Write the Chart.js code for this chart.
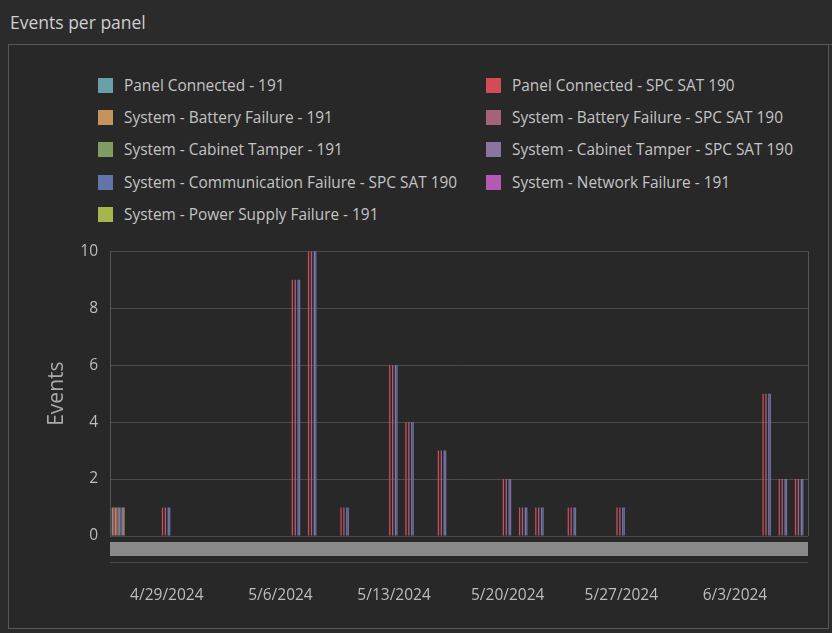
<!DOCTYPE html>
<html lang="en">
<head>
  <meta charset="UTF-8">
  <title>Events per panel</title>
  <script src="https://cdn.jsdelivr.net/npm/chart.js"></script>
  <style>
    body {
      margin: 0;
      width: 832px;
      height: 633px;
      background-color: #2b2b2b;
      font-family: 'Open Sans', sans-serif;
      position: relative;
      overflow: hidden;
    }
    #title {
      position: absolute;
      left: 10px;
      top: 10px;
      font-size: 17.5px;
      color: #cfcfcf;
    }
    #frame {
      position: absolute;
      left: 8px;
      top: 44px;
      width: 819px;
      height: 583px;
      border: 1px solid #575757;
      background-color: #282828;
    }
    #topline {
      position: absolute;
      left: 8px;
      right: 0;
      top: 44px;
      border-top: 1px solid #575757;
    }
    #legend {
      position: absolute;
      left: 98px;
      top: 69px;
      display: grid;
      grid-template-columns: 388px 320px;
      grid-auto-rows: 32.3px;
    }
    .item {
      display: flex;
      align-items: center;
      font-size: 15.4px;
      color: #c4c4c4;
      white-space: nowrap;
    }
    .swatch {
      width: 15px;
      height: 15px;
      margin-right: 11px;
    }
    canvas {
      position: absolute;
      left: 0;
      top: 230px;
    }
  </style>
</head>
<body>
  <div id="frame"></div>
  <div id="topline"></div>
  <div id="title">Events per panel</div>
  <div id="legend"></div>
  <canvas id="eventsChart" width="832" height="400"></canvas>

  <script>
    // One category per day, 4/26/2024 .. 6/7/2024
    const firstDay = new Date(2024, 3, 26);
    const dayCount = 43;
    const days = [];
    for (let i = 0; i < dayCount; i++) {
      const d = new Date(firstDay.getFullYear(), firstDay.getMonth(), firstDay.getDate() + i);
      days.push((d.getMonth() + 1) + '/' + d.getDate() + '/' + d.getFullYear());
    }

    // Panel 191 only reported on the first day
    const panel191Days = ['4/26/2024'];
    const panel191Counts = [1];

    // SPC SAT 190 events (same count for each of its event types)
    const spcDays = ['4/26/2024', '4/29/2024', '5/7/2024', '5/8/2024', '5/10/2024', '5/13/2024', '5/14/2024',
      '5/16/2024', '5/20/2024', '5/21/2024', '5/22/2024', '5/24/2024', '5/27/2024', '6/5/2024', '6/6/2024', '6/7/2024'];
    const spcCounts = [1, 1, 9, 10, 1, 6, 4, 3, 2, 1, 1, 1, 1, 5, 2, 2];

    const seriesNames = [
      'Panel Connected - 191',
      'Panel Connected - SPC SAT 190',
      'System - Battery Failure - 191',
      'System - Battery Failure - SPC SAT 190',
      'System - Cabinet Tamper - 191',
      'System - Cabinet Tamper - SPC SAT 190',
      'System - Communication Failure - SPC SAT 190',
      'System - Network Failure - 191',
      'System - Power Supply Failure - 191'
    ];
    const seriesColors = ['#6a9fa8', '#d24b57', '#c3955c', '#a5637a', '#7f9c62', '#8a75a2', '#6474ab', '#b35ab6', '#a6b54c'];

    function points(dates, counts) {
      return dates.map((d, i) => ({ x: d, y: counts[i] }));
    }

    const datasets = seriesNames.map((name, i) => {
      const is190 = name.indexOf('SPC SAT 190') !== -1;
      return {
        label: name,
        data: is190 ? points(spcDays, spcCounts) : points(panel191Days, panel191Counts),
        backgroundColor: seriesColors[i],
        borderWidth: 0
      };
    });

    // Legend in two columns, built from the chart's datasets
    const htmlLegend = {
      id: 'htmlLegend',
      afterUpdate(chart) {
        const box = document.getElementById('legend');
        box.innerHTML = '';
        chart.data.datasets.forEach(ds => {
          const item = document.createElement('div');
          item.className = 'item';
          const sw = document.createElement('span');
          sw.className = 'swatch';
          sw.style.backgroundColor = ds.backgroundColor;
          item.appendChild(sw);
          item.appendChild(document.createTextNode(ds.label));
          box.appendChild(item);
        });
      }
    };

    // Right edge of the plot and the range bar under it
    const plotFrame = {
      id: 'plotFrame',
      afterDraw(chart) {
        const { ctx, chartArea: a } = chart;
        ctx.save();
        ctx.strokeStyle = '#555555';
        ctx.lineWidth = 1;
        ctx.beginPath();
        ctx.moveTo(a.right + 0.5, a.top);
        ctx.lineTo(a.right + 0.5, a.bottom);
        ctx.stroke();
        ctx.fillStyle = '#8a8a8a';
        ctx.fillRect(a.left, a.bottom + 6, a.right - a.left, 14);
        ctx.strokeStyle = '#4a4a4a';
        ctx.beginPath();
        ctx.moveTo(a.left, a.bottom + 26.5);
        ctx.lineTo(a.right, a.bottom + 26.5);
        ctx.stroke();
        ctx.restore();
      }
    };

    Chart.defaults.font.family = "'Open Sans', sans-serif";
    Chart.defaults.color = '#bdbdbd';

    const chart = new Chart(document.getElementById('eventsChart'), {
      type: 'bar',
      data: { labels: days, datasets: datasets },
      options: {
        responsive: false,
        animation: false,
        layout: { padding: { left: 0, right: 24, top: 19, bottom: 24 } },
        plugins: {
          legend: { display: false },
          tooltip: { enabled: false }
        },
        scales: {
          x: {
            grid: { display: false },
            border: { display: false },
            ticks: {
              autoSkip: false,
              maxRotation: 0,
              padding: 42,
              font: { size: 15.5 },
              callback: function (value, index) {
                return index % 7 === 3 ? days[index] : '';
              }
            },
            afterFit(scale) {
              // the big tick padding should not eat into the plot width
              scale.height = 70;
              scale.paddingLeft = 0;
              scale.paddingRight = 0;
            }
          },
          y: {
            min: 0,
            max: 10,
            grid: { color: '#4b4b4b', drawTicks: false },
            border: { display: true, color: '#555555' },
            ticks: { stepSize: 2, padding: 12, font: { size: 15.5 } },
            title: {
              display: true,
              text: 'Events',
              color: '#a9a9a9',
              font: { size: 21 },
              padding: { top: 44, bottom: 0 }
            },
            afterFit(scale) { scale.width = 110; }
          }
        }
      },
      plugins: [htmlLegend, plotFrame]
    });
  </script>
</body>
</html>
